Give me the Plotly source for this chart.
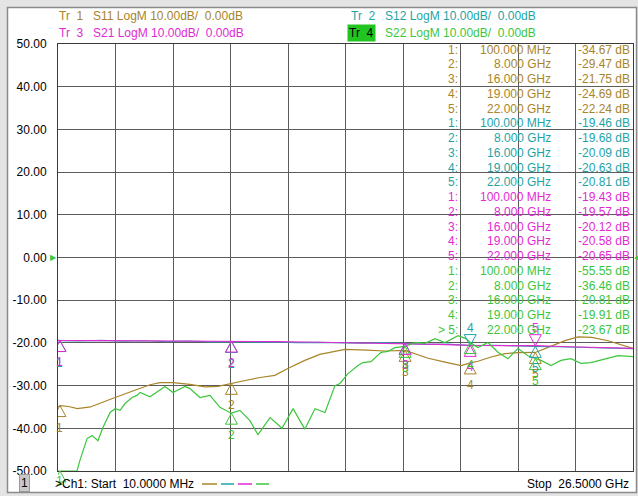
import plotly.graph_objects as go

# ---------------- data ----------------
F_START, F_STOP = 0.01, 26.5  # GHz

s11_freq = [0.01, 0.1, 0.5, 0.9, 1.5, 1.95, 2.64, 3.33, 3.79, 4.25, 4.71, 5.31, 6.09, 6.78, 7.38, 8.0,
            8.63, 9.32, 10.0, 10.6, 11.38, 12.07, 12.77, 13.23, 14.24, 15.07, 16.0, 17.06, 17.84, 18.58,
            19.0, 19.36, 19.96, 20.6, 21.2, 22.0, 22.7, 23.4, 23.97, 24.6, 25.35, 26.1, 26.5]
s11_vals = [-35.0, -34.67, -34.9, -35.4, -35.0, -34.2, -32.8, -31.5, -30.6, -29.8, -29.3, -29.3, -29.7, -30.3,
            -30.2, -29.47, -28.8, -28.1, -27.6, -26.0, -24.1, -22.7, -21.9, -21.5, -21.7, -21.9, -21.75,
            -23.6, -24.5, -25.3, -24.69, -24.3, -23.3, -22.5, -22.3, -22.24, -20.8, -19.4, -18.6, -18.7,
            -19.5, -20.7, -21.3]

s12_freq = [0.01, 0.1, 1.0, 2.0, 3.0, 4.0, 5.0, 6.0, 7.0, 8.0, 9.0, 10.0, 11.0, 12.0, 13.0, 14.0, 15.0,
            16.0, 17.0, 18.0, 19.0, 20.0, 21.0, 22.0, 23.0, 24.0, 25.0, 26.5]
s12_vals = [-19.45, -19.46, -19.55, -19.4, -19.6, -19.5, -19.7, -19.55, -19.75, -19.68, -19.85, -19.75,
            -19.95, -19.9, -20.0, -20.05, -19.95, -20.09, -20.35, -20.3, -20.63, -20.55, -20.75, -20.81,
            -20.9, -21.05, -21.15, -21.35]

s21_freq = [0.01, 0.1, 2.0, 4.0, 6.0, 8.0, 10.0, 12.0, 14.0, 16.0, 17.5, 19.0, 20.5, 22.0, 23.5, 25.0, 26.5]
s21_vals = [-19.42, -19.43, -19.45, -19.5, -19.52, -19.57, -19.7, -19.85, -19.98, -20.12, -20.35, -20.58,
            -20.6, -20.65, -20.9, -21.1, -21.3]

s22_freq = [0.01, 0.1, 0.885, 1.02, 1.12, 1.35, 1.58, 1.85, 2.08, 2.41, 2.64, 2.87, 3.10, 3.42, 3.65, 3.79,
            4.25, 4.94, 5.31, 5.86, 6.09, 6.55, 7.01, 7.47, 8.0, 8.39, 8.85, 9.22, 9.78, 10.33, 10.84, 11.38,
            11.85, 12.31, 12.77, 13.0, 13.37, 13.83, 14.06, 14.43, 14.89, 15.21, 15.53, 16.0, 16.46, 16.92,
            17.38, 17.84, 18.44, 18.81, 19.0, 19.36, 19.82, 20.28, 20.74, 21.2, 21.66, 22.0, 22.26, 22.72,
            23.18, 23.64, 24.1, 24.56, 25.21, 25.81, 26.5]
s22_vals = [-50.0, -50.0, -50.0, -47.5, -45.9, -42.4, -41.7, -42.9, -39.8, -36.3, -35.4, -35.8, -34.2, -32.8,
            -32.3, -31.6, -32.6, -30.2, -31.6, -30.2, -30.7, -32.8, -32.3, -35.1, -36.46, -35.8, -38.2, -41.5,
            -37.5, -40.0, -35.4, -40.2, -35.4, -36.3, -30.0, -29.5, -27.2, -25.3, -24.6, -24.4, -22.2, -22.0,
            -21.1, -20.81, -19.9, -20.1, -19.0, -19.9, -18.3, -19.0, -19.91, -21.1, -19.9, -22.2, -23.7, -21.3,
            -23.0, -23.67, -24.1, -25.3, -24.1, -23.7, -24.8, -24.6, -23.7, -23.0, -23.2]

marker_freqs = [0.1, 8.0, 16.0, 19.0, 22.0]
marker_freq_labels = ["100.000 MHz", "8.000 GHz", "16.000 GHz", "19.000 GHz", "22.000 GHz"]
s11_marker_vals = [-34.67, -29.47, -21.75, -24.69, -22.24]
s12_marker_vals = [-19.46, -19.68, -20.09, -20.63, -20.81]
s21_marker_vals = [-19.43, -19.57, -20.12, -20.58, -20.65]
s22_marker_vals = [-55.55, -36.46, -20.81, -19.91, -23.67]

y_ticks = [50, 40, 30, 20, 10, 0, -10, -20, -30, -40, -50]
y_tick_labels = ["50.00", "40.00", "30.00", "20.00", "10.00", "0.00",
                 "-10.00", "-20.00", "-30.00", "-40.00", "-50.00"]
x_divisions = 10

# ---------------- style ----------------
C_S11 = "#a8842a"
C_S12 = "#1ea4a8"
C_S21 = "#e22ad4"
C_S22 = "#3cc63c"
GRID = "#5c5c5c"
FONT = "Liberation Sans, Arial, sans-serif"

W, H = 638, 496
L, R, T, B = 58, 5, 44, 25
PW, PH = W - L - R, H - T - B
ROW0, ROWSTEP = 49.5, 14.76


def px(x):
    return (x - L) / PW


def py(y):
    return (H - B - y) / PH


traces = [
    ("S11", s11_freq, s11_vals, C_S11, s11_marker_vals, "bbbbb"),
    ("S12", s12_freq, s12_vals, C_S12, s12_marker_vals, "bbbab"),
    ("S21", s21_freq, s21_vals, C_S21, s21_marker_vals, "bbbba"),
    ("S22", s22_freq, s22_vals, C_S22, s22_marker_vals, "bbbbb"),
]

fig = go.Figure()
shapes = []
annotations = []

for name, fx, fy, col, mvals, side in traces:
    fig.add_trace(go.Scatter(x=fx, y=fy, mode="lines", name=name,
                             line=dict(color=col, width=1.2), hoverinfo="skip"))

for name, fx, fy, col, mvals, side in traces:
    for i, (mf, mv) in enumerate(zip(marker_freqs, mvals)):
        below = side[i] == "b"
        path = "M0,0 L-6,-11 L6,-11 Z" if below else "M0,0 L-6,11 L6,11 Z"
        if mv < -50:
            shapes.append(dict(type="path", xref="x", yref="paper", xsizemode="pixel", ysizemode="pixel",
                               xanchor=mf, yanchor=0, path=path, line=dict(color=col, width=1),
                               layer="above"))
            annotations.append(dict(x=mf, y=0, xref="x", yref="paper", text=str(i + 1), showarrow=False,
                                    yshift=-19, font=dict(family=FONT, size=12, color=col)))
        else:
            shapes.append(dict(type="path", xref="x", yref="y", xsizemode="pixel", ysizemode="pixel",
                               xanchor=mf, yanchor=mv, path=path, line=dict(color=col, width=1),
                               layer="above"))
            annotations.append(dict(x=mf, y=mv, xref="x", yref="y", text=str(i + 1), showarrow=False,
                                    yshift=-22 if below else 18,
                                    font=dict(family=FONT, size=12, color=col)))

# reference level pointers
annotations.append(dict(x=F_START, y=0, xref="x", yref="y", text="▶", showarrow=False, xanchor="right",
                        font=dict(family="DejaVu Sans", size=8, color=C_S22), xshift=1))
annotations.append(dict(x=F_STOP, y=0, xref="x", yref="y", text="◀", showarrow=False, xanchor="left",
                        font=dict(family="DejaVu Sans", size=8, color=C_S22), xshift=-1))

# marker table
row = 0
for name, fx, fy, col, mvals, side in traces:
    for i, (lab, mv) in enumerate(zip(marker_freq_labels, mvals)):
        yy = py(ROW0 + row * ROWSTEP)
        idx = f"{i + 1}:"
        if name == "S22" and i == 4:
            idx = ">\u00a05:"
        for txt, xr in ((idx, 460), (lab, 553), (f"{mv:.2f} dB", 632)):
            annotations.append(dict(x=px(xr), y=yy, xref="paper", yref="paper", text=txt, showarrow=False,
                                    xanchor="right", yanchor="middle",
                                    font=dict(family=FONT, size=12, color=col)))
        row += 1

# header
hdr = [
    ("Tr\u00a0\u00a01", "S11 LogM 10.00dB/\u00a0 0.00dB", 57, 16, C_S11, None),
    ("Tr\u00a0\u00a03", "S21 LogM 10.00dB/\u00a0 0.00dB", 57, 33, C_S21, None),
    ("Tr\u00a0\u00a02", "S12 LogM 10.00dB/\u00a0 0.00dB", 349, 16, C_S12, None),
    ("Tr\u00a0\u00a04", "S22 LogM 10.00dB/\u00a0 0.00dB", 349, 33, C_S22, "#22c422"),
]
for tr, txt, x0, y0, col, bg in hdr:
    a = dict(x=px(x0), y=py(y0), xref="paper", yref="paper", text=tr, showarrow=False,
             xanchor="left", yanchor="middle", font=dict(family=FONT, size=12, color=col))
    if bg:
        a.update(bgcolor=bg, font=dict(family=FONT, size=12, color="black"), borderpad=1, x=px(x0 - 2))
    annotations.append(a)
    annotations.append(dict(x=px(x0 + 34), y=py(y0), xref="paper", yref="paper", text=txt, showarrow=False,
                            xanchor="left", yanchor="middle", font=dict(family=FONT, size=12, color=col)))

# footer
annotations.append(dict(x=px(24), y=py(483), xref="paper", yref="paper", text="1", showarrow=False,
                        xanchor="center", yanchor="middle", bgcolor="#c8c8c8", bordercolor="#9a9a9a",
                        borderwidth=1, borderpad=1, font=dict(family=FONT, size=12, color="black")))
annotations.append(dict(x=px(53), y=py(484), xref="paper", yref="paper",
                        text=">Ch1: Start\u00a0 10.0000 MHz", showarrow=False,
                        xanchor="left", yanchor="middle", font=dict(family=FONT, size=12, color="black")))
annotations.append(dict(x=px(631), y=py(484), xref="paper", yref="paper",
                        text="Stop\u00a0 26.5000 GHz", showarrow=False,
                        xanchor="right", yanchor="middle", font=dict(family=FONT, size=12, color="black")))
for (a0, a1), col in zip([(202, 217), (221, 234), (238, 252), (256, 269)], [C_S11, C_S12, C_S21, C_S22]):
    shapes.append(dict(type="line", xref="paper", yref="paper", x0=px(a0), x1=px(a1), y0=py(484),
                       y1=py(484), line=dict(color=col, width=1.5)))

# window frame
shapes.insert(0, dict(type="rect", xref="paper", yref="paper", x0=px(0), x1=px(W), y0=py(H), y1=py(0),
                      fillcolor="#e4e4e4", line=dict(width=0), layer="below"))
shapes.insert(1, dict(type="rect", xref="paper", yref="paper", x0=px(7.5), x1=px(636.5), y0=py(492.5),
                      y1=py(7.5), fillcolor="white", line=dict(color="#8a8a8a", width=1.5), layer="below"))

x_grid = [F_START + k * (F_STOP - F_START) / x_divisions for k in range(x_divisions + 1)]

fig.update_layout(
    width=W, height=H,
    margin=dict(l=L, r=R, t=T, b=B, pad=0),
    paper_bgcolor="white", plot_bgcolor="white",
    showlegend=False,
    shapes=shapes, annotations=annotations,
    font=dict(family=FONT, size=12, color="black"),
    xaxis=dict(range=[F_START, F_STOP], tickvals=x_grid, showticklabels=False, ticks="",
               showgrid=True, gridcolor=GRID, gridwidth=1, zeroline=False,
               showline=True, linecolor="#3a3a3a", linewidth=1, mirror=True, fixedrange=True),
    yaxis=dict(range=[-50, 50], tickvals=y_ticks, ticktext=y_tick_labels, ticks="",
               ticklabelstandoff=8, tickfont=dict(family=FONT, size=12, color="black"),
               showgrid=True, gridcolor=GRID, gridwidth=1, zeroline=False,
               showline=True, linecolor="#3a3a3a", linewidth=1, mirror=True, fixedrange=True),
)

fig.write_html("out.html", config={"displayModeBar": False},
               post_script="document.body.style.margin='0';document.body.style.overflow='hidden';")
